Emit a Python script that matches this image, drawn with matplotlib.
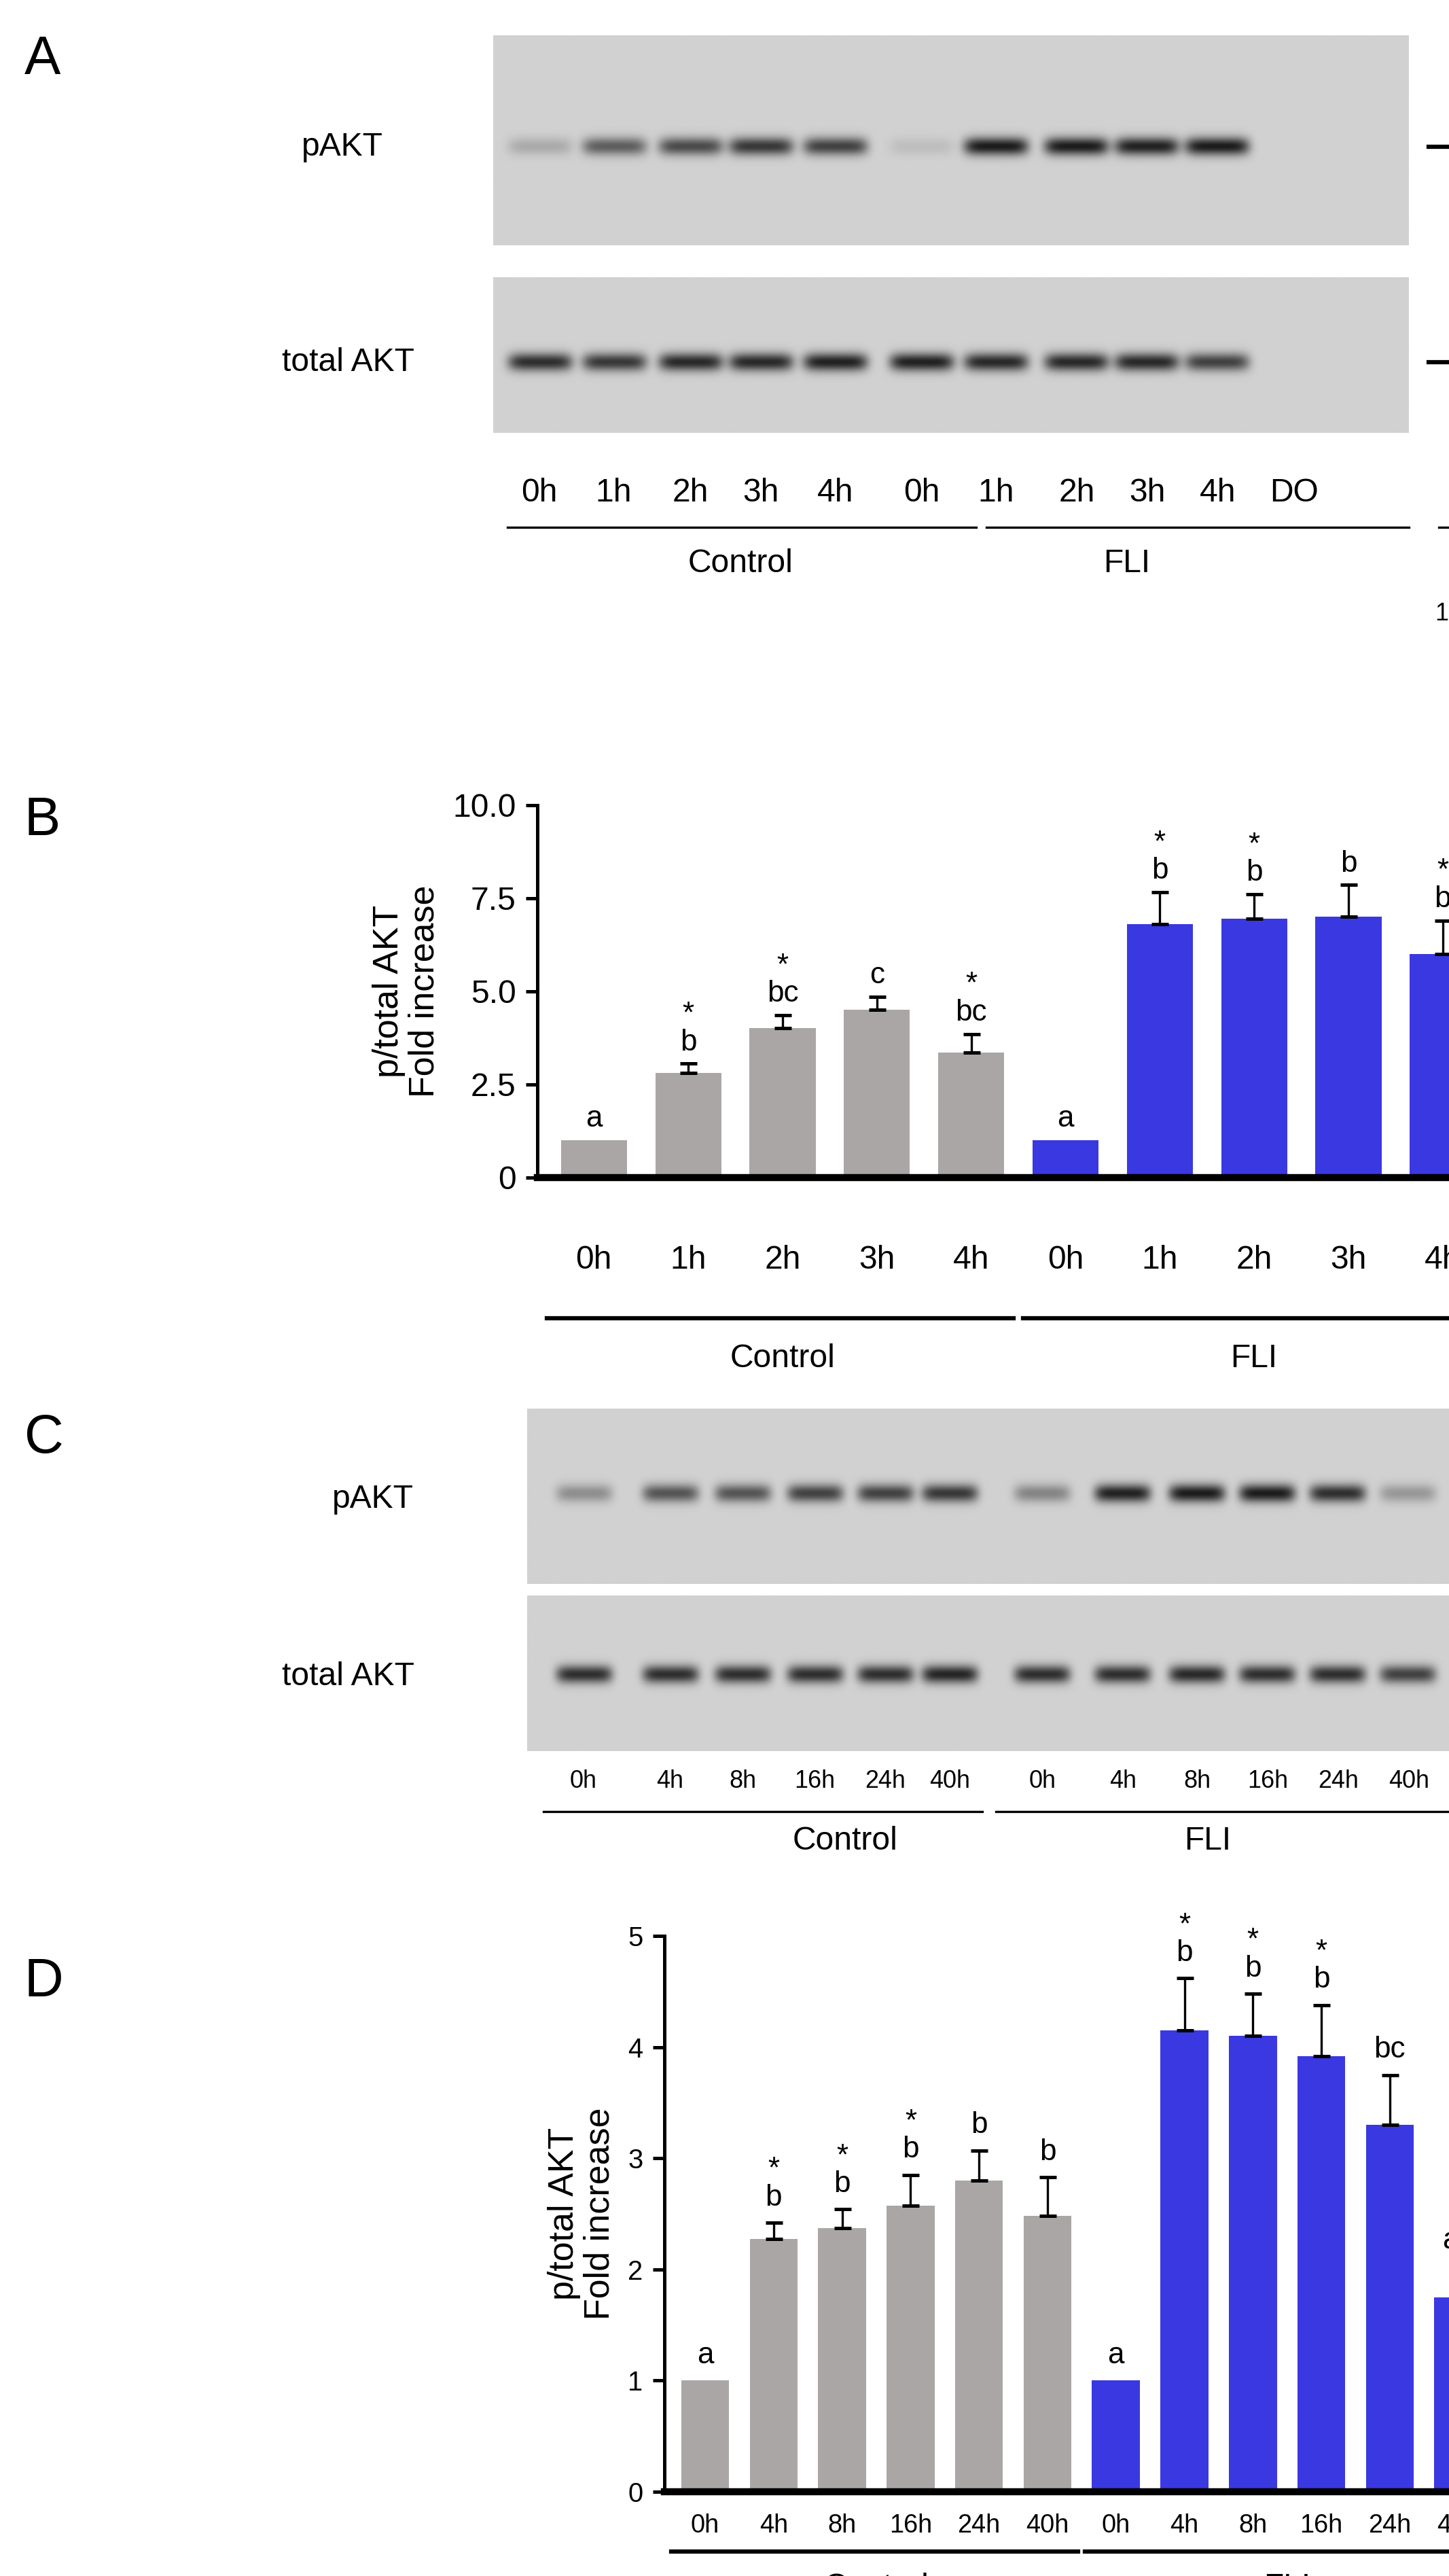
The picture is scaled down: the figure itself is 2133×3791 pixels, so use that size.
import numpy as np
import matplotlib.pyplot as plt

# ---- data ----
b_labels = ['0h', '1h', '2h', '3h', '4h']
b_ctrl = [1.0, 2.8, 4.0, 4.5, 3.35]
b_ctrl_err = [0, 0.25, 0.35, 0.35, 0.5]
b_fli = [1.0, 6.8, 6.95, 7.0, 6.0]
b_fli_err = [0, 0.85, 0.65, 0.85, 0.9]
b_ctrl_let = ['a', '*\nb', '*\nbc', 'c', '*\nbc']
b_fli_let = ['a', '*\nb', '*\nb', 'b', '*\nb']

d_labels = ['0h', '4h', '8h', '16h', '24h', '40h']
d_ctrl = [1.0, 2.27, 2.37, 2.57, 2.8, 2.48]
d_ctrl_err = [0, 0.15, 0.17, 0.28, 0.27, 0.35]
d_fli = [1.0, 4.15, 4.1, 3.92, 3.3, 1.75]
d_fli_err = [0, 0.47, 0.38, 0.46, 0.45, 0.28]
d_ctrl_let = ['a', '*\nb', '*\nb', '*\nb', 'b', 'b']
d_fli_let = ['a', '*\nb', '*\nb', '*\nb', 'bc', 'ac']

# blot band intensities (0 = no band)
a_lanes = ['0h', '1h', '2h', '3h', '4h', '0h', '1h', '2h', '3h', '4h', 'DO']
a_lane_x = [268, 305, 343, 378, 415, 458, 495, 535, 570, 605, 643]
a_pakt = [0.2, 0.6, 0.7, 0.8, 0.75, 0.1, 0.95, 0.95, 0.92, 0.95, 0.0]
a_total = [0.85, 0.8, 0.88, 0.88, 0.92, 0.92, 0.88, 0.88, 0.88, 0.75, 0.0]
c_lanes = ['0h', '4h', '8h', '16h', '24h', '40h', '0h', '4h', '8h', '16h', '24h', '40h', 'DO']
c_lane_x = [290, 333, 369, 405, 440, 472, 518, 558, 595, 630, 665, 700, 732]
c_pakt = [0.35, 0.65, 0.65, 0.75, 0.75, 0.8, 0.4, 0.92, 0.95, 0.95, 0.85, 0.3, 0.0]
c_total = [0.85, 0.85, 0.85, 0.85, 0.85, 0.9, 0.85, 0.85, 0.88, 0.85, 0.85, 0.75, 0.0]

GRAY = '#aaa6a6'
BLUE = '#3a38e0'
W, H = 720, 1280  # layout grid (display px)

plt.rcParams['font.family'] = ['Liberation Sans', 'DejaVu Sans']
fig = plt.figure(figsize=(2133 / 300, 3791 / 300), dpi=300)
ov = fig.add_axes([0, 0, 1, 1])
ov.set_xlim(0, W)
ov.set_ylim(H, 0)
ov.axis('off')


def blot(x0, x1, y0, y1, lane_x, vals, band_y, bw=16, bh=4.5, bg=0.82):
    xs = np.linspace(x0, x1, 500)
    ys = np.linspace(y0, y1, 120)
    X, Y = np.meshgrid(xs, ys)
    img = np.full(X.shape, bg)
    for lx, v in zip(lane_x, vals):
        if v <= 0:
            continue
        g = np.exp(-((X - lx) / bw) ** 6 - ((Y - band_y) / bh) ** 2)
        img -= v * 0.75 * g
    img = np.clip(img, 0, 1)
    ov.imshow(img, cmap='gray', vmin=0, vmax=1, extent=(x0, x1, y1, y0),
              aspect='auto', zorder=1)
    ov.set_xlim(0, W)
    ov.set_ylim(H, 0)


def fs(px):
    return px * (2133 / W) / (300 / 72) * 1.35


# ---- panel A ----
ov.text(12, 30, 'A', fontsize=fs(20), va='center')
blot(245, 700, 18, 122, a_lane_x, a_pakt, 73)
blot(245, 700, 138, 215, a_lane_x, a_total, 180)
ov.text(150, 73, 'pAKT', fontsize=fs(12), va='center')
ov.text(140, 180, 'total AKT', fontsize=fs(12), va='center')
for y in (73, 180):
    ov.plot([710, 738], [y, y], color='k', lw=1.5)
    ov.text(745, y, '58 kDa', fontsize=fs(12), va='center')
for lab, x in zip(a_lanes, a_lane_x):
    ov.text(x, 245, lab, fontsize=fs(12), ha='center', va='center')
ov.text(740, 245, '1h', fontsize=fs(12), ha='center', va='center')
ov.plot([252, 485], [262, 262], color='k', lw=0.8)
ov.plot([490, 700], [262, 262], color='k', lw=0.8)
ov.plot([715, 765], [262, 262], color='k', lw=0.8)
ov.text(368, 280, 'Control', fontsize=fs(12), ha='center', va='center')
ov.text(560, 280, 'FLI', fontsize=fs(12), ha='center', va='center')
ov.text(740, 282, 'EGF', fontsize=fs(12), ha='center', va='center')
ov.text(740, 305, '100 ng/ml', fontsize=fs(9), ha='center', va='center')


def bar_panel(pos, ctrl, ctrl_err, fli, fli_err, cl, fl, labels, ymax, ticks,
              ticklabels, lab_y, line_y, grp_y, small):
    ax = fig.add_axes(pos)
    n = len(ctrl)
    xc = np.arange(n)
    xf = np.arange(n) + n
    ax.bar(xc, ctrl, width=0.7, color=GRAY, zorder=2)
    ax.bar(xf, fli, width=0.7, color=BLUE, zorder=2)
    for x, v, e in list(zip(xc, ctrl, ctrl_err)) + list(zip(xf, fli, fli_err)):
        if e > 0:
            ax.errorbar(x, v, yerr=[[0], [e]], color='k', lw=0.8, capsize=3,
                        capthick=1.2, zorder=3)
    for x, v, e, t in list(zip(xc, ctrl, ctrl_err, cl)) + list(zip(xf, fli, fli_err, fl)):
        ax.text(x, v + e + ymax * 0.02, t, ha='center', va='bottom',
                fontsize=fs(11), linespacing=1.0)
    ax.set_xlim(-0.6, 2 * n - 0.4)
    ax.set_ylim(0, ymax)
    ax.set_yticks(ticks)
    ax.set_yticklabels(ticklabels, fontsize=fs(12 if not small else 10))
    ax.set_xticks([])
    for s in ('top', 'right'):
        ax.spines[s].set_visible(False)
    ax.spines['bottom'].set_linewidth(2.5)
    ax.spines['left'].set_linewidth(1.2)
    ax.tick_params(axis='y', width=1.2, length=4)
    ax.set_ylabel('p/total AKT\nFold increase', fontsize=fs(13), linespacing=1.1)
    # lane labels in overlay coordinates
    tr = ax.transData + ov.transData.inverted()
    xs = [tr.transform((x, 0))[0] for x in np.arange(2 * n)]
    for x, t in zip(xs, labels + labels):
        ov.text(x, lab_y, t, ha='center', va='center',
                fontsize=fs(12 if not small else 9.5))
    half = (xs[1] - xs[0]) / 2
    ov.plot([xs[0] - half, xs[n - 1] + half * 0.9], [line_y] * 2, color='k', lw=1.5)
    ov.plot([xs[n] - half * 0.9, xs[-1] + half * 0.8], [line_y] * 2, color='k', lw=1.5)
    ov.text((xs[0] + xs[n - 1]) / 2, grp_y, 'Control', ha='center', va='center', fontsize=fs(12))
    ov.text((xs[n] + xs[-1]) / 2, grp_y, 'FLI', ha='center', va='center', fontsize=fs(12))
    return ax


def frac(x0, y0, x1, y1):
    return [x0 / W, 1 - y1 / H, (x1 - x0) / W, (y1 - y0) / H]


# ---- panel B ----
ov.text(12, 408, 'B', fontsize=fs(20), va='center')
bar_panel(frac(267, 400, 745, 585), b_ctrl, b_ctrl_err, b_fli, b_fli_err,
          b_ctrl_let, b_fli_let, b_labels, 10, [0, 2.5, 5.0, 7.5, 10.0],
          ['0', '2.5', '5.0', '7.5', '10.0'], 626, 655, 675, False)

# ---- panel C ----
ov.text(12, 715, 'C', fontsize=fs(20), va='center')
blot(262, 740, 700, 787, c_lane_x, c_pakt, 742, bw=14)
blot(262, 740, 793, 870, c_lane_x, c_total, 832, bw=14)
ov.text(165, 745, 'pAKT', fontsize=fs(12), va='center')
ov.text(140, 833, 'total AKT', fontsize=fs(12), va='center')
for y in (742, 832):
    ov.plot([748, 765], [y, y], color='k', lw=1.5)
    ov.text(767, y, '58 kDa', fontsize=fs(11), va='center')
for lab, x in zip(c_lanes, c_lane_x):
    ov.text(x, 885, lab, fontsize=fs(9), ha='center', va='center')
ov.plot([270, 488], [900, 900], color='k', lw=0.8)
ov.plot([495, 742], [900, 900], color='k', lw=0.8)
ov.text(420, 915, 'Control', fontsize=fs(12), ha='center', va='center')
ov.text(600, 915, 'FLI', fontsize=fs(12), ha='center', va='center')

# ---- panel D ----
ov.text(12, 985, 'D', fontsize=fs(20), va='center')
bar_panel(frac(330, 962, 745, 1238), d_ctrl, d_ctrl_err, d_fli, d_fli_err,
          d_ctrl_let, d_fli_let, d_labels, 5, [0, 1, 2, 3, 4, 5],
          ['0', '1', '2', '3', '4', '5'], 1255, 1268, 1286, True)

fig.savefig('out.png', dpi=300)
